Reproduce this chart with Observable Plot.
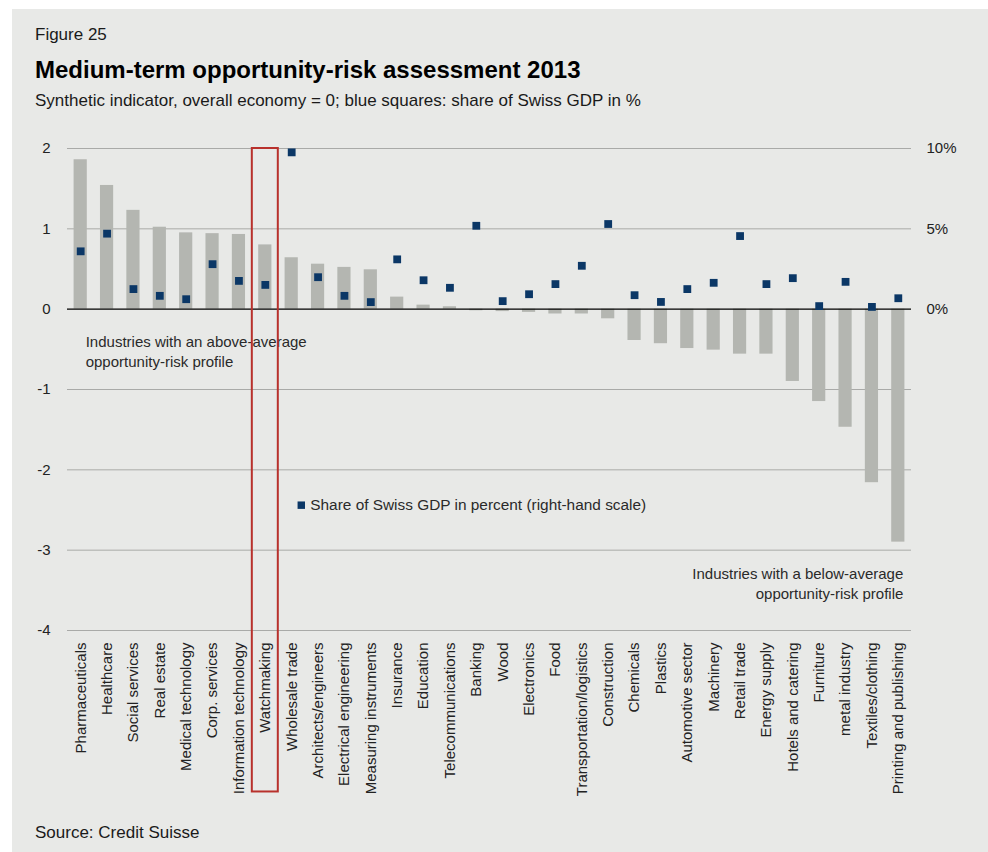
<!DOCTYPE html>
<html>
<head>
<meta charset="utf-8">
<script src="https://cdn.jsdelivr.net/npm/d3@7"></script>
<script src="https://cdn.jsdelivr.net/npm/@observablehq/plot@0.6"></script>
<style>
  html, body { margin: 0; padding: 0; background: #ffffff; }
  body { position: relative; width: 988px; height: 852px; overflow: hidden; font-family: "Liberation Sans", Arial, Helvetica, sans-serif; }
  #panel { position: absolute; left: 12px; top: 9px; right: 0; bottom: 0; background: #e8e9e7; }
  .t { position: absolute; left: 35px; line-height: 1; white-space: nowrap; color: #1a1a1a; }
  #fig { top: 25.6px; font-size: 17px; }
  #title { top: 57.7px; font-size: 24px; font-weight: bold; color: #000; }
  #subtitle { top: 91.6px; font-size: 17px; }
  #source { top: 823.6px; font-size: 17px; }
  #chart { position: absolute; left: 0; top: 130px; }
</style>
</head>
<body>
<div id="panel"></div>
<div class="t" id="fig">Figure 25</div>
<div class="t" id="title">Medium-term opportunity-risk assessment 2013</div>
<div class="t" id="subtitle">Synthetic indicator, overall economy = 0; blue squares: share of Swiss GDP in %</div>
<div id="chart"></div>
<div class="t" id="source">Source: Credit Suisse</div>
<script>
const categories = ["Pharmaceuticals", "Healthcare", "Social services", "Real estate", "Medical technology", "Corp. services", "Information technology", "Watchmaking", "Wholesale trade", "Architects/engineers", "Electrical engineering", "Measuring instruments", "Insurance", "Education", "Telecommunications", "Banking", "Wood", "Electronics", "Food", "Transportation/logistics", "Construction", "Chemicals", "Plastics", "Automotive sector", "Machinery", "Retail trade", "Energy supply", "Hotels and catering", "Furniture", "metal industry", "Textiles/clothing", "Printing and publishing"];
const scores = [1.86, 1.54, 1.23, 1.02, 0.95, 0.94, 0.93, 0.80, 0.64, 0.56, 0.52, 0.49, 0.15, 0.05, 0.03, -0.02, -0.03, -0.04, -0.06, -0.06, -0.12, -0.39, -0.43, -0.49, -0.51, -0.56, -0.56, -0.90, -1.15, -1.47, -2.16, -2.90];
const gdpShare = [3.6, 4.7, 1.25, 0.83, 0.62, 2.8, 1.76, 1.51, 9.76, 1.99, 0.83, 0.44, 3.1, 1.8, 1.33, 5.19, 0.5, 0.93, 1.56, 2.7, 5.3, 0.87, 0.45, 1.25, 1.64, 4.55, 1.56, 1.93, 0.19, 1.7, 0.14, 0.68];
const leftTicks = [-4, -3, -2, -1, 0, 1, 2];
const rightTicks = [0, 5, 10];          // % of GDP
const gdpPerUnit = 5;                   // 10% on right = 2 on left
const highlighted = ["Watchmaking"];
const legendLabel = "Share of Swiss GDP in percent (right-hand scale)";
const noteAbove = [{x: "Pharmaceuticals", y: -0.52, text: "Industries with an above-average\nopportunity-risk profile"}];
const noteBelow = [{x: "Printing and publishing", y: -3.40, text: "Industries with a below-average\nopportunity-risk profile"}];
const legendAt = [{x: "Wholesale trade", y: -2.44}];

const data = categories.map((c, i) => ({industry: c, score: scores[i], gdp: gdpShare[i]}));

const font = "'Liberation Sans', Arial, Helvetica, sans-serif";
const textColor = "#222";

const plot = Plot.plot({
  width: 988,
  height: 680,
  marginLeft: 67,
  marginRight: 77,
  marginTop: 18,
  marginBottom: 180,
  style: {background: "transparent", fontFamily: font, fontSize: "15px", color: textColor, overflow: "visible"},
  x: {domain: categories, paddingInner: 0.5, paddingOuter: 0.25, round: false, label: null},
  y: {domain: [-4, 2], label: null},
  marks: [
    Plot.ruleY(leftTicks.filter(d => d !== 0), {stroke: "#a9aaa8", strokeWidth: 1}),
    Plot.barY(data, {x: "industry", y: "score", fill: "#b4b6b1"}),
    Plot.ruleY([0], {stroke: "#000", strokeWidth: 1.3}),
    Plot.dot(data, {x: "industry", y: d => d.gdp / gdpPerUnit, symbol: "square", r: 4.4, fill: "#0b3766", stroke: null}),
    Plot.axisY({ticks: leftTicks, tickSize: 0, tickPadding: 17, tickFormat: d => String(d), fontSize: 15, anchor: "left", label: null}),
    Plot.axisY({ticks: rightTicks.map(d => d / gdpPerUnit), tickSize: 0, tickPadding: 15, tickFormat: d => Math.round(d * gdpPerUnit) + "%", fontSize: 15, anchor: "right", textAnchor: "start", label: null}),
    Plot.axisX({tickRotate: -90, tickSize: 0, tickPadding: 12, fontSize: 15, anchor: "bottom", label: null}),
    Plot.text(noteAbove, {x: "x", y: "y", text: "text", textAnchor: "start", dx: 5, lineHeight: 1.33, fontSize: 15, fill: "#2a2a2a", lineAnchor: "middle"}),
    Plot.text(noteBelow, {x: "x", y: "y", text: "text", textAnchor: "end", dx: 5, lineHeight: 1.33, fontSize: 15, fill: "#2a2a2a", lineAnchor: "middle"}),
    Plot.dot(legendAt, {x: "x", y: "y", dx: 9.6, symbol: "square", r: 4.2, fill: "#0b3766", stroke: null}),
    Plot.text(legendAt, {x: "x", y: "y", dx: 18.6, text: () => legendLabel, textAnchor: "start", fontSize: 15.4, fill: "#2a2a2a"}),
    Plot.barY(highlighted, {x: d => d, y1: 2, y2: -6.01, fill: "none", stroke: "#b8312c", strokeWidth: 2, insetLeft: -6.4, insetRight: -6.4})
  ]
});
document.getElementById("chart").appendChild(plot);
</script>
</body>
</html>
